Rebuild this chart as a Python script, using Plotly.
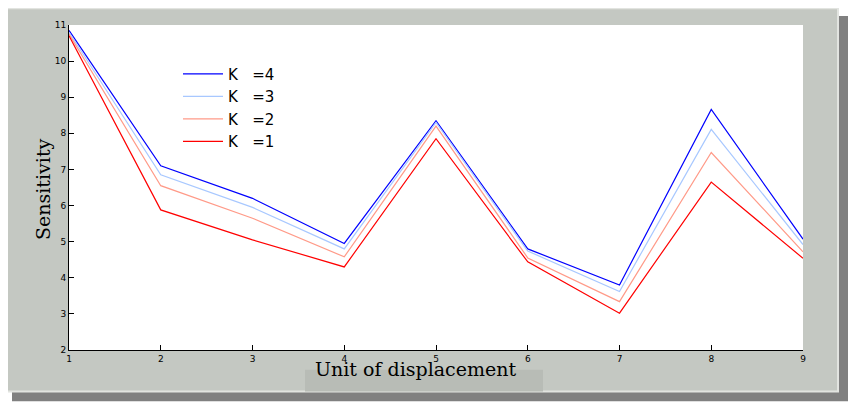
import plotly.graph_objects as go

units = [1, 2, 3, 4, 5, 6, 7, 8, 9]
k4 = [10.85, 7.1, 6.2, 4.95, 8.35, 4.8, 3.8, 8.66, 5.07]
k3 = [10.8, 6.85, 5.95, 4.8, 8.3, 4.74, 3.62, 8.11, 4.92]
k2 = [10.75, 6.55, 5.65, 4.58, 8.2, 4.55, 3.34, 7.47, 4.72]
k1 = [10.7, 5.88, 5.05, 4.3, 7.85, 4.44, 3.02, 6.65, 4.54]

series = [("K   =4", k4, "#0000ff"), ("K   =3", k3, "#a8c8ff"),
          ("K   =2", k2, "#ff9a88"), ("K   =1", k1, "#ff0000")]

# page body adds ~8px offset, so work in page pixels and shift back
OFF = 8
W, H = 860, 414
L, R, T, B = 69 - OFF, 57 + OFF, 21 - OFF, 64 + OFF
pw, ph = W - L - R, H - T - B


def px(x):
    return (x - OFF - L) / pw


def py(y):
    return (H - B - (y - OFF)) / ph


fig = go.Figure()
for name, vals, col in series:
    fig.add_trace(go.Scatter(x=units, y=vals, mode="lines", name=name,
                             line=dict(color=col, width=1.2)))

shapes = [
    # drop shadow
    dict(type="rect", x0=px(12), x1=px(848), y0=py(12), y1=py(402),
         fillcolor="#4a4a4a", line=dict(width=0), opacity=0.7),
    # grey panel
    dict(type="rect", x0=px(4), x1=px(838), y0=py(4), y1=py(392),
         fillcolor="#c4c8c2", line=dict(color="#e2e4e0", width=2)),
    # x-label box
    dict(type="rect", x0=px(305), x1=px(543), y0=py(370), y1=py(392),
         fillcolor="#b8bcb6", line=dict(width=0)),
    # plot area
    dict(type="rect", x0=0, x1=1, y0=0, y1=1,
         fillcolor="white", line=dict(width=0)),
]
for s in shapes:
    s.update(xref="paper", yref="paper", layer="below")

fig.update_layout(
    width=W, height=H,
    margin=dict(l=L, r=R, t=T, b=B),
    paper_bgcolor="white",
    plot_bgcolor="rgba(0,0,0,0)",
    shapes=shapes,
    showlegend=True,
    legend=dict(x=px(178), y=py(54), xanchor="left", yanchor="top",
                bgcolor="rgba(0,0,0,0)", font=dict(family="DejaVu Sans", size=15, color="black"),
                tracegroupgap=0, itemwidth=40),
    xaxis=dict(range=[1, 9], tickvals=units, showgrid=False, zeroline=False,
               showline=True, linecolor="black", linewidth=1,
               ticks="inside", ticklen=5, tickcolor="black",
               tickfont=dict(family="DejaVu Sans", size=9, color="black")),
    yaxis=dict(range=[2, 11], dtick=1, showgrid=False, zeroline=False,
               showline=True, linecolor="black", linewidth=1,
               ticks="inside", ticklen=5, tickcolor="black",
               tickfont=dict(family="DejaVu Sans", size=9, color="black")),
    annotations=[
        dict(text="Unit of displacement", x=px(415), y=py(382), xref="paper", yref="paper",
             showarrow=False, font=dict(family="DejaVu Serif", size=19, color="black")),
        dict(text="Sensitivity", x=px(30), y=py(188), xref="paper", yref="paper",
             showarrow=False, textangle=-90,
             font=dict(family="DejaVu Serif", size=19, color="black")),
    ],
)

fig.write_html("out.html")
